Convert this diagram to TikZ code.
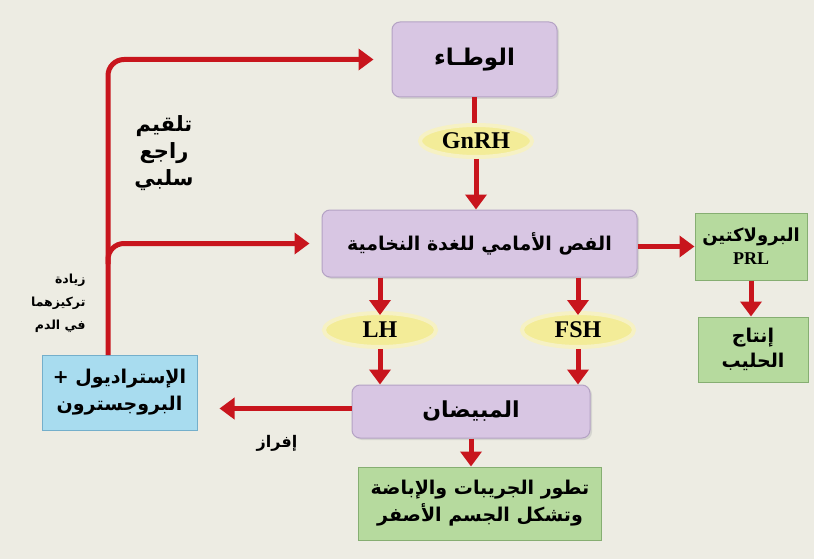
\documentclass[tikz,border=0pt]{standalone}
\usepackage{fontspec}
\setmainfont{Liberation Serif}
\newfontfamily\arabicfont[Script=Arabic]{DejaVu Sans}
\TeXXeTstate=1
\usepackage{xcolor}
\usetikzlibrary{arrows.meta,shapes.geometric,shadows}
\definecolor{bgcol}{HTML}{EDECE3}
\definecolor{purfill}{HTML}{D8C6E3}
\definecolor{purline}{HTML}{B4A2C4}
\definecolor{grnfill}{HTML}{B6DA9E}
\definecolor{grnline}{HTML}{86AE72}
\definecolor{blufill}{HTML}{A8DCEF}
\definecolor{bluline}{HTML}{74AFCB}
\definecolor{ylwfill}{HTML}{F3EC98}
\definecolor{ylwglow}{HTML}{F6F1C4}
\definecolor{arrred}{HTML}{C8151D}
\newcommand{\artxt}[1]{{\arabicfont\bfseries\beginR #1\endR}}

\begin{document}
\begin{tikzpicture}[x=1pt, y=-1pt,
  box/.style={draw, align=center, inner sep=2pt, line width=1pt, font=\fontsize{19}{25}\selectfont},
  pbox/.style={box, fill=purfill, draw=purline, rounded corners=8pt, drop shadow={shadow xshift=2pt, shadow yshift=-2pt, fill=black!25}},
  gbox/.style={box, fill=grnfill, draw=grnline},
  bbox/.style={box, fill=blufill, draw=bluline},
  hlbl/.style={ellipse, fill=ylwfill, draw=ylwglow, line width=4pt, inner sep=0pt, font=\fontsize{24}{26}\selectfont\bfseries},
  fbtxt/.style={align=center, font=\fontsize{21}{27}\selectfont},
  arr/.style={-{Triangle[length=15pt, width=21pt]}, draw=arrred, line width=5pt},
  seg/.style={draw=arrred, line width=5pt},
]
\fill[bgcol] (0,0) rectangle (814,559);
\useasboundingbox (0,0) rectangle (814,559);
% === Boxes ===
\node[pbox, minimum width=165pt, minimum height=75pt, font=\fontsize{23}{25}\selectfont] (hypo) at (474.5,59.5) {\artxt{الوطـاء}};
\node[pbox, minimum width=315pt, minimum height=67pt] (pit) at (479.5,243.5) {\artxt{الفص الأمامي للغدة النخامية}};
\node[gbox, minimum width=112pt, minimum height=67pt, font=\fontsize{18}{23}\selectfont] (prl) at (751,246.5) {\artxt{البرولاكتين}\\\textbf{PRL}};
\node[gbox, minimum width=110pt, minimum height=65pt] (milk) at (753,349.5) {\artxt{إنتاج}\\\artxt{الحليب}};
\node[pbox, minimum width=238pt, minimum height=53pt, font=\fontsize{22}{25}\selectfont] (ovary) at (471,411.5) {\artxt{المبيضان}};
\node[gbox, minimum width=243pt, minimum height=73pt, font=\fontsize{19}{27}\selectfont] (dev) at (480,503.5) {\artxt{تطور الجريبات والإباضة}\\\artxt{وتشكل الجسم الأصفر}};
\node[bbox, minimum width=155pt, minimum height=75pt, font=\fontsize{19}{27}\selectfont] (horm) at (119.5,392.5) {\artxt{الإستراديول +}\\\artxt{البروجسترون}};
% === Hormones ===
\draw[seg] (hypo.south) -- ++(0,30);
\node[hlbl, minimum width=112pt, minimum height=32pt] (gnrh) at (476,141) {GnRH};
\draw[arr] (gnrh.south) -- (gnrh.south |- pit.north);
\node[hlbl, minimum width=112pt, minimum height=34pt] (lh) at (380,330) {LH};
\node[hlbl, minimum width=112pt, minimum height=34pt] (fsh) at (578,330) {FSH};
\draw[arr] (pit.south -| lh) -- ([yshift=-4pt]lh.north);
\draw[arr] (pit.south -| fsh) -- ([yshift=-4pt]fsh.north);
\draw[arr] (lh.south) -- (lh.south |- ovary.north);
\draw[arr] (fsh.south) -- (fsh.south |- ovary.north);
\draw[arr] (pit.east |- prl) -- (prl.west);
\draw[arr] (prl.south) -- (prl.south |- milk.north);
\draw[arr] (ovary.south) -- (ovary.south |- dev.north);
\draw[arr, shorten >=22pt] ([yshift=3pt]ovary.west) -- ([yshift=3pt]ovary.west -| horm.east);
% === Feedback ===
\coordinate (fb) at (108,355);
\coordinate (br) at (108,264);
\draw[arr, rounded corners=16pt, shorten >=18pt] (fb) |- (hypo.west);
\draw[arr, rounded corners=16pt, shorten >=12pt] (br) |- (pit.west);
\node[fbtxt] (neg) at (164,153) {\artxt{تلقيم}\\\artxt{راجع}\\\artxt{سلبي}};
\node[fbtxt, anchor=east, align=right, font=\fontsize{12.5}{23}\selectfont] (conc) at (89,303) {\artxt{زيادة}\\\artxt{تركيزهما}\\\artxt{في الدم}};
\node[fbtxt, font=\fontsize{16}{18}\selectfont] (secr) at (277,443) {\artxt{إفراز}};
\end{tikzpicture}
\end{document}
